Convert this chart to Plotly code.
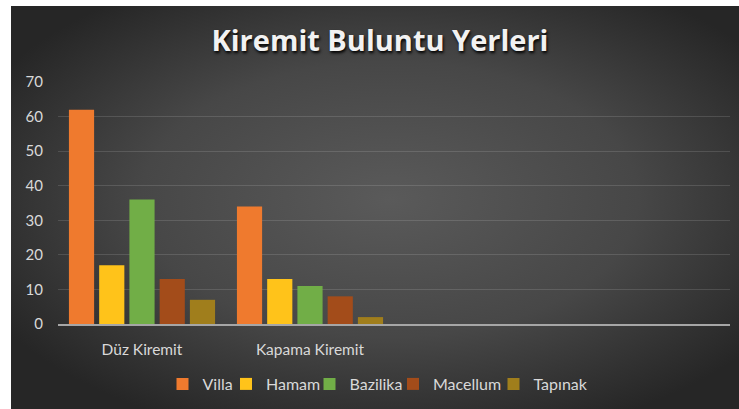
import base64
import plotly.graph_objects as go

categories = ["Düz Kiremit", "Kapama Kiremit", " ", "  "]
series_names = ["Villa", "Hamam", "Bazilika", "Macellum", "Tapınak"]
villa = [62, 34, None, None]
hamam = [17, 13, None, None]
bazilika = [36, 11, None, None]
macellum = [13, 8, None, None]
tapinak = [7, 2, None, None]
series_values = [villa, hamam, bazilika, macellum, tapinak]
colors = ["#EF7A2E", "#FFC31A", "#71AE47", "#A34C1A", "#A07E1C"]
y_ticks = [0, 10, 20, 30, 40, 50, 60, 70]

# legend swatch centre positions (px, container)
legend_centers = [182.5, 246, 329.5, 413, 513.5]
legend_ids = ["legend", "legend2", "legend3", "legend4", "legend5"]

fig = go.Figure()
for name, vals, col, lid in zip(series_names, series_values, colors, legend_ids):
    fig.add_trace(go.Bar(x=categories, y=vals, name=name, legend=lid,
                         marker=dict(color=col, line=dict(width=0))))

svg = ('<svg xmlns="http://www.w3.org/2000/svg" width="728" height="403" '
       'preserveAspectRatio="none"><defs><radialGradient id="g" cx="52%" cy="48%" r="62%">'
       '<stop offset="0" stop-color="#5a5a5a"/><stop offset="0.55" stop-color="#474747"/>'
       '<stop offset="1" stop-color="#262626"/></radialGradient></defs>'
       '<rect width="728" height="403" fill="url(#g)"/></svg>')
src = "data:image/svg+xml;base64," + base64.b64encode(svg.encode()).decode()

L, R, T, B = 58, 730, 82, 324
pw, ph = R - L, B - T

def px(x):
    return (x - L) / pw

def py(y):
    return (B - y) / ph

legends = {}
for lid, c in zip(legend_ids, legend_centers):
    legends[lid] = dict(orientation="h", xref="container", yref="container",
                        x=(c - 20) / 739, xanchor="left", y=1 - 384 / 409, yanchor="middle",
                        font=dict(family="Lato", size=16, color="#d9d9d9"),
                        bgcolor="rgba(0,0,0,0)", itemwidth=30)

fig.update_layout(
    width=739, height=409, autosize=False,
    margin=dict(l=L, r=739 - R, t=T, b=409 - B),
    paper_bgcolor="white", plot_bgcolor="rgba(0,0,0,0)",
    barmode="group", bargap=0.10, bargroupgap=0.167,
    images=[dict(source=src, xref="paper", yref="paper",
                 x=px(11), y=py(6), sizex=px(739) - px(11), sizey=py(6) - py(409),
                 xanchor="left", yanchor="top", sizing="stretch", layer="below")],
    title=dict(text="<b>Kiremit Buluntu Yerleri</b>", x=380 / 739, xref="container",
               xanchor="center", y=1 - 41 / 409, yref="container", yanchor="middle",
               font=dict(family="Open Sans", size=29, color="#f2f2f2",
                         shadow="1px 2px 3px #000")),
    xaxis=dict(showgrid=False, showline=True, linecolor="#a6a6a6", linewidth=2,
               tickfont=dict(family="Lato", size=15.5, color="#d9d9d9"),
               ticks="", ticklabelstandoff=10, fixedrange=True),
    yaxis=dict(range=[0, 70], tickvals=y_ticks, showgrid=True,
               gridcolor="rgba(255,255,255,0.13)", gridwidth=1,
               zeroline=False, showline=False,
               tickfont=dict(family="Lato", size=15, color="#d9d9d9"),
               ticklabelstandoff=14, fixedrange=True),
    showlegend=True,
    **legends,
)

fig.write_html("out.html", config={"displayModeBar": False},
               post_script="document.body.style.margin='0px';")
